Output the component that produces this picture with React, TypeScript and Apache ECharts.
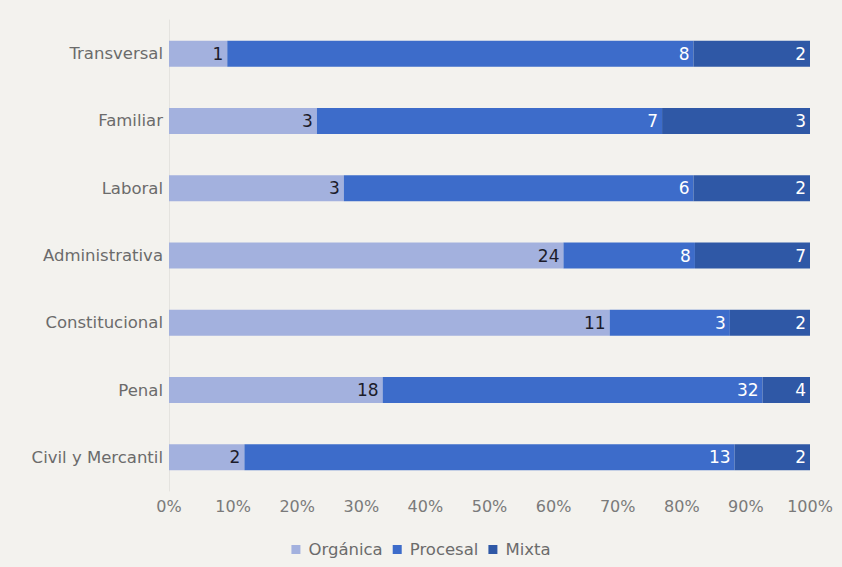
import React, { useEffect, useRef } from "react";
import * as echarts from "echarts";

const categories = ["Civil y Mercantil", "Penal", "Constitucional", "Administrativa", "Laboral", "Familiar", "Transversal"];
const organica = [2, 18, 11, 24, 3, 3, 1];
const procesal = [13, 32, 3, 8, 6, 7, 8];
const mixta = [2, 4, 2, 7, 2, 3, 2];
const seriesNames = ["Orgánica", "Procesal", "Mixta"];
const colors = ["#a3b1de", "#3d6cca", "#2f58a6"];
const labelColors = ["#1c1c2a", "#ffffff", "#ffffff"];

export default function App() {
  const ref = useRef<HTMLDivElement>(null);
  useEffect(() => {
    if (!ref.current) return;
    const chart = echarts.init(ref.current, null, { renderer: "svg" });
    const raw = [organica, procesal, mixta];
    const totals = categories.map((_, i) => organica[i] + procesal[i] + mixta[i]);
    const font = "DejaVu Sans";
    chart.setOption({
      animation: false,
      backgroundColor: "#f3f2ee",
      textStyle: { fontFamily: font },
      grid: { left: 169, right: 32, top: 20, bottom: 76, containLabel: false },
      legend: {
        bottom: 4,
        left: "center",
        itemWidth: 9,
        itemHeight: 9,
        itemGap: 10,
        icon: "rect",
        textStyle: { fontSize: 16.5, color: "#6b6b6b", fontFamily: font, padding: [0, 0, 0, 3] },
        data: seriesNames,
      },
      xAxis: {
        type: "value",
        min: 0,
        max: 100,
        interval: 10,
        axisLabel: { formatter: "{value}%", fontSize: 16, color: "#7a7a7a", margin: 7, fontFamily: font },
        axisLine: { show: false },
        axisTick: { show: false },
        splitLine: { show: false },
      },
      yAxis: {
        type: "category",
        data: categories,
        axisLabel: { fontSize: 16.5, color: "#6b6b6b", margin: 6, fontFamily: font },
        axisLine: { show: true, lineStyle: { color: "#e4e3df" } },
        axisTick: { show: false },
      },
      series: seriesNames.map((name, s) => ({
        name,
        type: "bar",
        stack: "total",
        barWidth: 26,
        itemStyle: { color: colors[s] },
        data: raw[s].map((v, i) => ({ value: (v / totals[i]) * 100, raw: v })),
        label: {
          show: true,
          position: "insideRight",
          distance: 4,
          fontSize: 17,
          color: labelColors[s],
          fontFamily: font,
          formatter: (p: any) => String(raw[s][p.dataIndex]),
        },
      })),
    });
    return () => chart.dispose();
  }, []);
  return <div ref={ref} style={{ position: "fixed", left: 0, top: 0, width: 842, height: 567 }} />;
}
